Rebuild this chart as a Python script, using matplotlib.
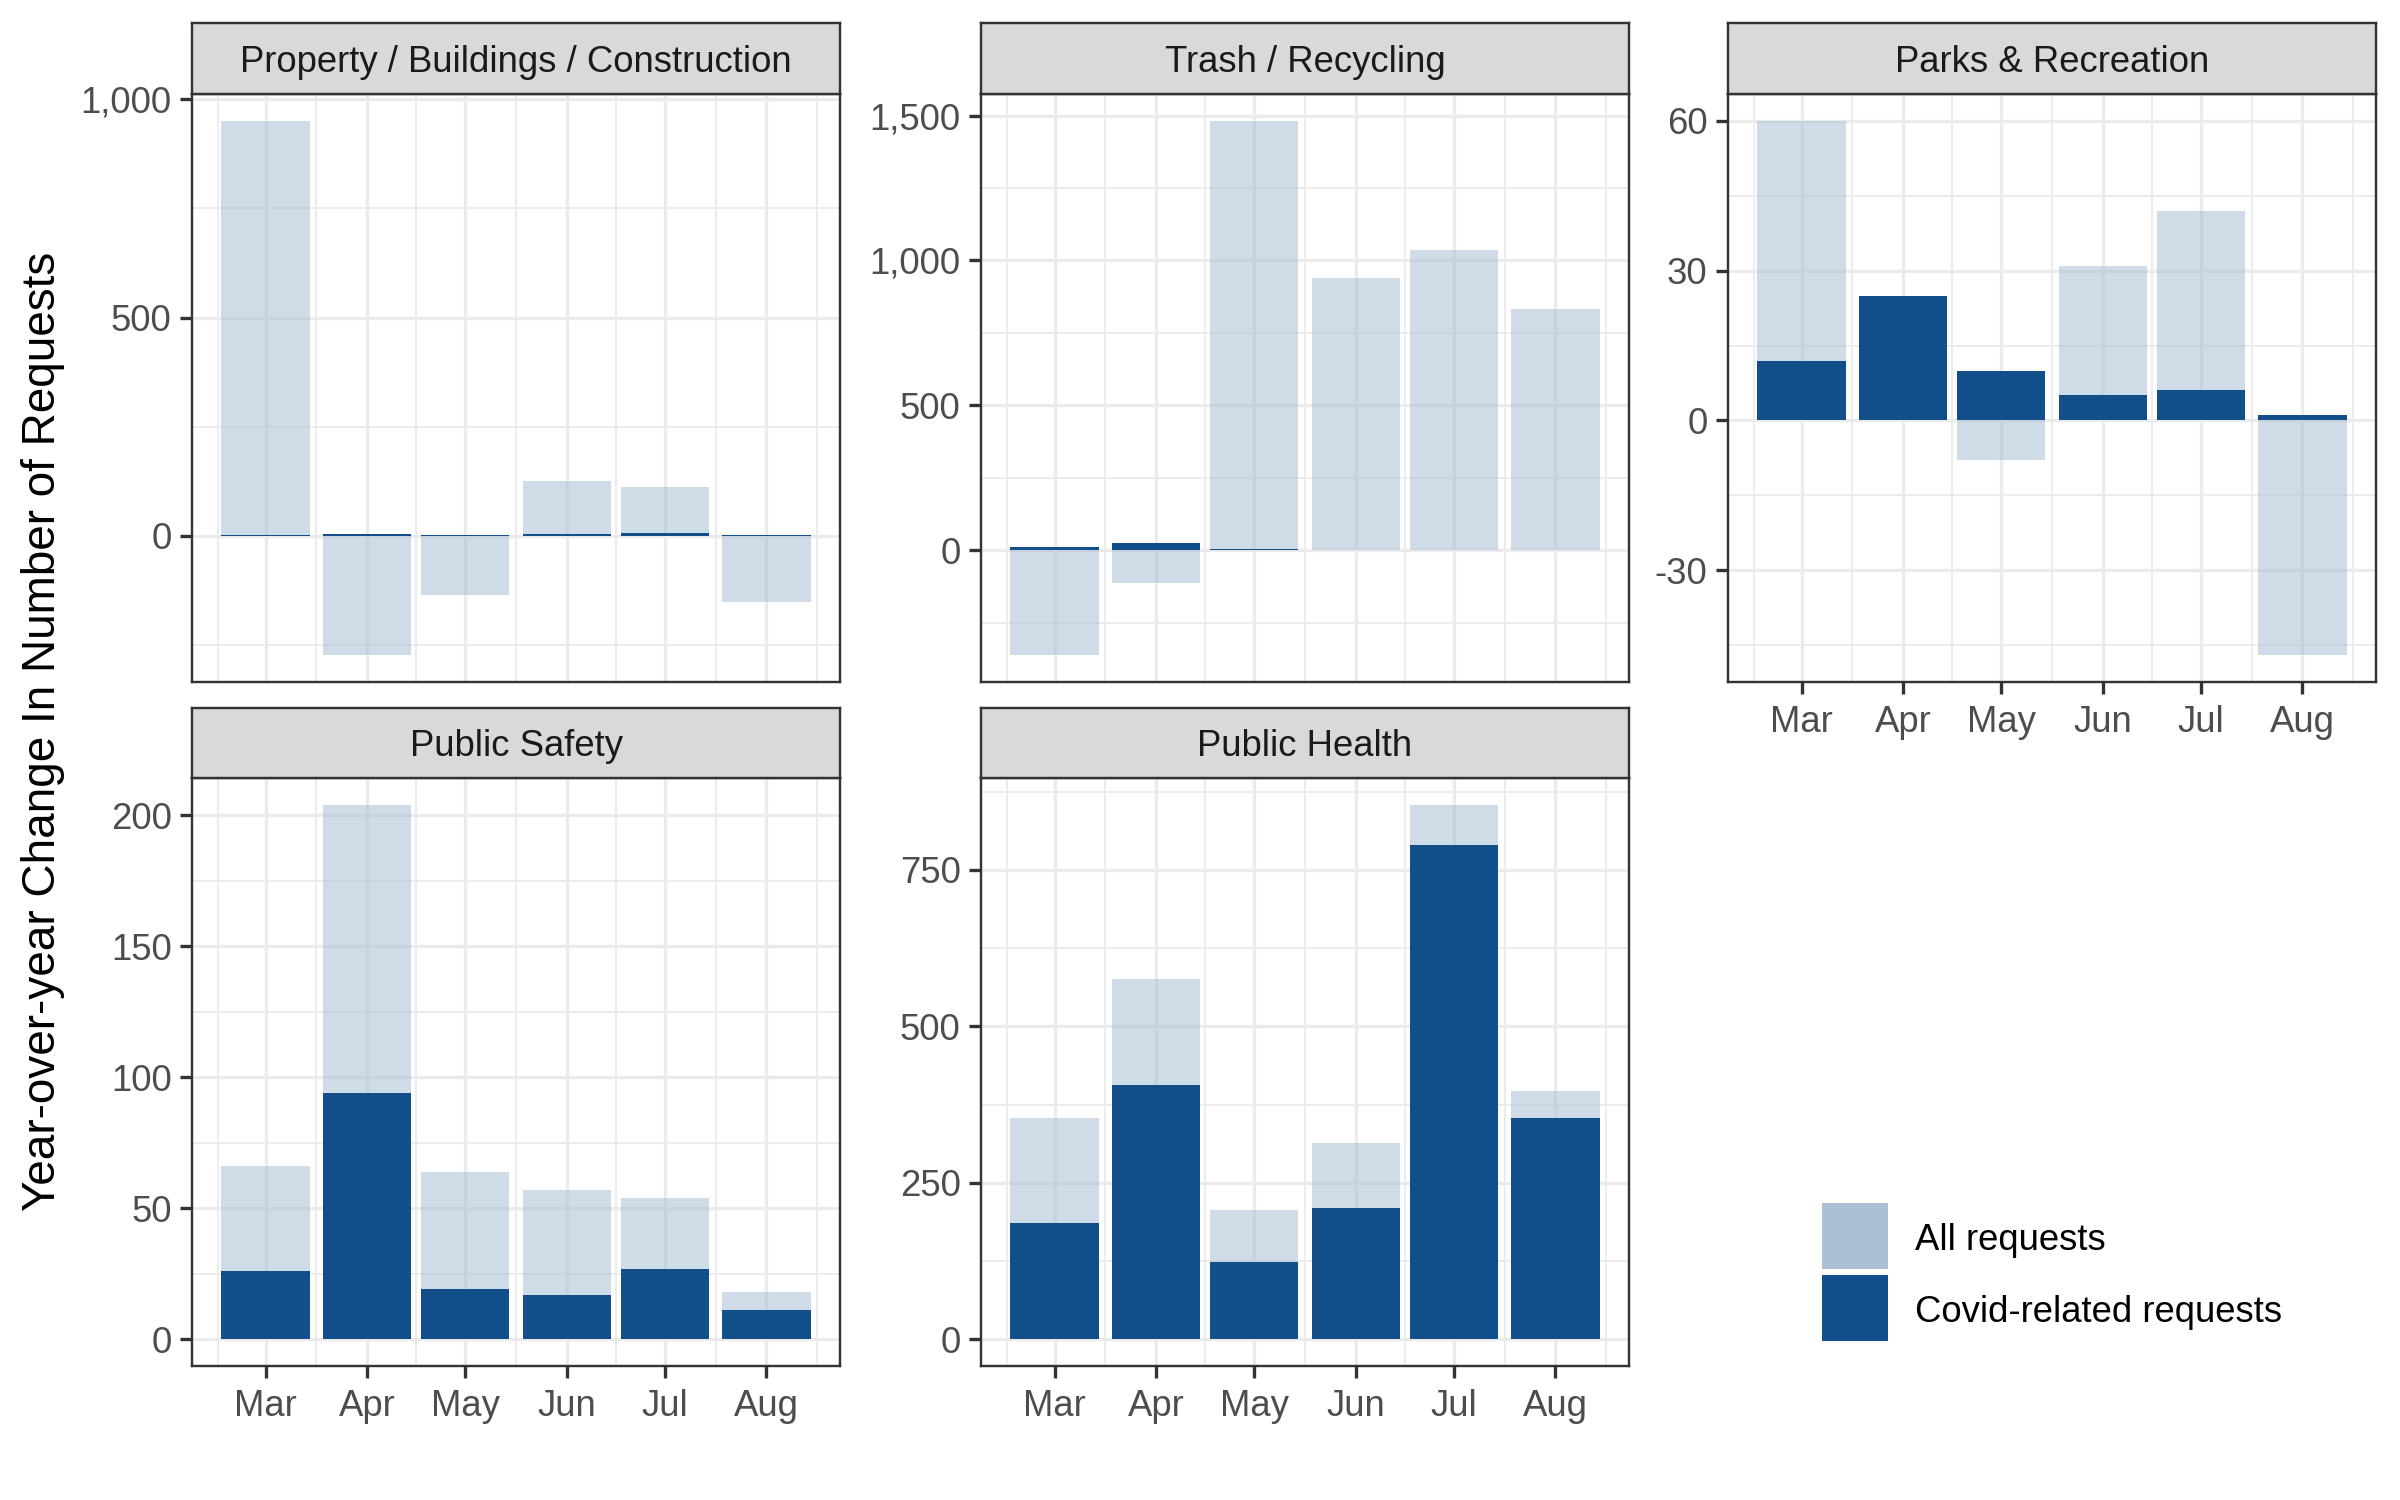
import matplotlib
matplotlib.use("Agg")
import matplotlib.pyplot as plt
from matplotlib.ticker import MultipleLocator, FuncFormatter
from matplotlib.patches import Rectangle
import pandas as pd

plt.rcParams['font.family'] = ['Liberation Sans', 'DejaVu Sans']
plt.rcParams['axes.unicode_minus'] = False

# ---------------- data ----------------
year = 2020
months = ["Mar", "Apr", "May", "Jun", "Jul", "Aug"]
categories = ["Property / Buildings / Construction", "Trash / Recycling",
              "Parks & Recreation", "Public Safety", "Public Health"]

all_property = [951, -274, -137, 126, 112, -151]
covid_property = [1, 3, 1, 3, 6, 1]
all_trash = [-362, -111, 1482, 940, 1037, 834]
covid_trash = [12, 26, 5, 1, 1, 1]
all_parks = [60, 25, -8, 31, 42, -47]
covid_parks = [12, 25, 10, 5, 6, 1]
all_safety = [66, 204, 64, 57, 54, 18]
covid_safety = [26, 94, 19, 17, 27, 11]
all_health = [353, 576, 207, 314, 854, 396]
covid_health = [186, 407, 123, 209, 790, 354]

legend_labels = ["All requests", "Covid-related requests"]
y_title = "Year-over-year Change In Number of Requests"

# ---------------- style ----------------
LIGHT = '#a9bfd4'
DARK = '#124e89'
GRID = '#ebebeb'
BORDER = '#333333'
FS = 17.5
BAR_DAYS = 27

FW, FH = 2400.0, 1500.0
fig = plt.figure(figsize=(16, 10), dpi=150)


def fx(px):
    return px / FW


def fy(py):
    return 1 - py / FH


# panel geometry in pixels
cols = [(192, 840), (981, 1629), (1728, 2376)]
rows = [(23, 94, 682), (708, 778, 1366)]

specs = [
    (categories[0], all_property, covid_property, 500, cols[0], rows[0], False),
    (categories[1], all_trash, covid_trash, 500, cols[1], rows[0], False),
    (categories[2], all_parks, covid_parks, 30, cols[2], rows[0], True),
    (categories[3], all_safety, covid_safety, 50, cols[0], rows[1], True),
    (categories[4], all_health, covid_health, 250, cols[1], rows[1], True),
]

dates = pd.to_datetime([f"{year}-{m}-01" for m in months], format="%Y-%b-%d")
x = list(dates.dayofyear)
# minor breaks: midpoints between month starts (incl. neighbouring months)
edges = pd.date_range(dates[0] - pd.DateOffset(months=1),
                      dates[-1] + pd.DateOffset(months=1), freq="MS").dayofyear
xminor = [(a + b) / 2 for a, b in zip(edges[:-1], edges[1:])]

xlo = x[0] - BAR_DAYS / 2
xhi = x[-1] + BAR_DAYS / 2
xpad = 0.05 * (xhi - xlo)

for name, a_vals, c_vals, step, (l, r), (st, sb, pb), show_x in specs:
    ax = fig.add_axes([fx(l), fy(pb), fx(r) - fx(l), fy(sb) - fy(pb)])
    ax.set_axisbelow(True)
    ax.bar(x, a_vals, width=BAR_DAYS, color=LIGHT, alpha=0.55, lw=0)
    ax.bar(x, c_vals, width=BAR_DAYS, color=DARK, lw=0)
    ax.set_xlim(xlo - xpad, xhi + xpad)
    lo = min(min(a_vals), min(c_vals), 0)
    hi = max(max(a_vals), max(c_vals), 0)
    pad = 0.05 * (hi - lo)
    ax.set_ylim(lo - pad, hi + pad)
    ax.set_xticks(x, months)
    ax.set_xticks(xminor, minor=True)
    ax.yaxis.set_major_locator(MultipleLocator(step))
    ax.yaxis.set_minor_locator(MultipleLocator(step / 2))
    ax.yaxis.set_major_formatter(FuncFormatter(lambda v, p: f"{v:,.0f}"))
    ax.grid(which='major', color=GRID, lw=1.6)
    ax.grid(which='minor', color=GRID, lw=0.9)
    ax.tick_params(which='major', length=5.8, width=1.6, color=BORDER,
                   labelcolor='#4d4d4d', labelsize=FS)
    ax.tick_params(axis='y', pad=4)
    ax.tick_params(axis='x', pad=5.2)
    ax.tick_params(which='minor', length=0)
    if not show_x:
        ax.tick_params(axis='x', which='both', length=0, labelbottom=False)
    for s in ax.spines.values():
        s.set_color(BORDER)
        s.set_linewidth(1.15)

    sax = fig.add_axes([fx(l), fy(sb), fx(r) - fx(l), fy(st) - fy(sb)])
    sax.set_facecolor('#d9d9d9')
    sax.set_xticks([])
    sax.set_yticks([])
    for s in sax.spines.values():
        s.set_color(BORDER)
        s.set_linewidth(1.15)
    sax.text(0.5, 0.445, name, ha='center', va='center', fontsize=FS,
             color='#1a1a1a', transform=sax.transAxes)

fig.text(fx(43), fy(731), y_title, rotation=90, ha='center', va='center',
         fontsize=22, color='black')

# legend (drawn as figure artists)
key_left, key_top, key_size, key_gap, text_left = 1822, 1203, 66, 6, 1915
for i, (lab, col) in enumerate(zip(legend_labels, [LIGHT, DARK])):
    top = key_top + i * (key_size + key_gap)
    fig.add_artist(Rectangle((fx(key_left), fy(top + key_size)),
                             key_size / FW, key_size / FH,
                             transform=fig.transFigure, facecolor=col,
                             edgecolor='none'))
    fig.text(fx(text_left), fy(top + key_size / 2 + 4), lab, ha='left',
             va='center', fontsize=FS, color='black')

fig.savefig("out.png", dpi=150)
